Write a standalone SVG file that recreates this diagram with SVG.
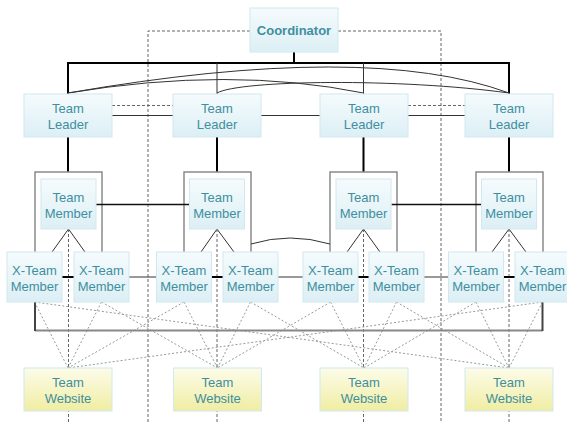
<svg xmlns="http://www.w3.org/2000/svg" width="567" height="423" viewBox="0 0 567 423">
<defs>
<linearGradient id="gb" x1="0" y1="0" x2="0" y2="1"><stop offset="0" stop-color="#f5fbfd"/><stop offset="1" stop-color="#dceff5"/></linearGradient>
<linearGradient id="gy" x1="0" y1="0" x2="0" y2="1"><stop offset="0" stop-color="#fcfcea"/><stop offset="1" stop-color="#f0eda2"/></linearGradient>
</defs>
<style>
.n{fill:url(#gb);stroke:#d2e8f0;stroke-width:1}
.w{fill:url(#gy);stroke:#d2e8f0;stroke-width:1}
text{font-family:"Liberation Sans",Arial,sans-serif;font-size:13px;fill:#3f8f9f;text-anchor:middle}
.b{font-weight:bold}
.k2{fill:none;stroke:#000;stroke-width:2}
.k1{fill:none;stroke:#333;stroke-width:1}
.k15{fill:none;stroke:#111;stroke-width:1.5}
.g{fill:none;stroke:#8a8a8a;stroke-width:1.5}
.ds{fill:none;stroke:#666;stroke-width:1;stroke-dasharray:3 2}
.dt{fill:none;stroke:#999;stroke-width:1;stroke-dasharray:2 2}
</style>
<g id="connectors">
<path class="ds" d="M250,31H148V423M338,31H441V423"/>
<path class="ds" d="M68.5,229V423M217,229V423M363.5,229V423M509,229V423"/>
<path class="dt" d="M34.5,302L68,368M34.5,302L509,368M101.5,302L68,368M101.5,302L217.5,368M184,302L68,368M184,302L217.5,368M250.5,302L217.5,368M250.5,302L364,368M330.5,302L217.5,368M330.5,302L364,368M396.5,302L364,368M396.5,302L509,368M476,302L364,368M476,302L509,368M542.5,302L509,368M542.5,302L68,368"/>
<path class="k2" d="M294,52V63M68,94V63H509V94"/>
<path class="k1" d="M217,63V94M363.5,63V94"/>
<path class="k1" d="M68,93Q368,41 509,93M68,93Q230,66 363.5,93M217,93C240,80 400,78 509,93"/>
<path class="k1" d="M112,115.5H173M261,115.5H320M408,115.5H465"/>
<path class="ds" d="M112,105.5H173M408,105.5H465"/>
<path class="k2" d="M68,137V172M217,137V172M363.5,137V172M509,137V172"/>
<path class="g" d="M35,252V172H102V252M184,252V172H251V252M330,252V172H397V252M476,252V172H543V252"/>
<path class="k1" d="M68.5,229L52,252M68.5,229L85,252M217,229L201,252M217,229L234,252M363.5,229L347,252M363.5,229L380,252M509,229L492,252M509,229L526,252"/>
<path class="k15" d="M96,204.5H189.5M391.5,204.5H481.5"/>
<path class="k1" d="M251,244Q290,232 330,244"/>
<path class="k2" d="M62,277H74M211.5,277H223M358,277H369M503.5,277H515"/>
<path class="k1" d="M129,277H156.5M278,277H303M424,277H448.5"/>
<path fill="none" stroke="#888" stroke-width="2" d="M35,330.5H542.5"/>
<path fill="none" stroke="#444" stroke-width="2" d="M35,302V331M542.5,331V302"/>
</g>
<g id="coordinator"><rect class="n" x="250" y="8" width="88" height="44"/><text class="b" x="294" y="35">Coordinator</text></g>
<g id="leader1"><rect class="n" x="24" y="94" width="88" height="43"/><text x="68" y="113">Team</text><text x="68" y="129">Leader</text></g>
<g id="leader2"><rect class="n" x="173" y="94" width="88" height="43"/><text x="217" y="113">Team</text><text x="217" y="129">Leader</text></g>
<g id="leader3"><rect class="n" x="320" y="94" width="88" height="43"/><text x="364" y="113">Team</text><text x="364" y="129">Leader</text></g>
<g id="leader4"><rect class="n" x="465" y="94" width="88" height="43"/><text x="509" y="113">Team</text><text x="509" y="129">Leader</text></g>
<g id="member1"><rect class="n" x="41" y="179" width="55" height="50"/><text x="68.5" y="202">Team</text><text x="68.5" y="217.5">Member</text></g>
<g id="member2"><rect class="n" x="189.5" y="179" width="55" height="50"/><text x="217" y="202">Team</text><text x="217" y="217.5">Member</text></g>
<g id="member3"><rect class="n" x="336" y="179" width="55" height="50"/><text x="363.5" y="202">Team</text><text x="363.5" y="217.5">Member</text></g>
<g id="member4"><rect class="n" x="481.5" y="179" width="55" height="50"/><text x="509" y="202">Team</text><text x="509" y="217.5">Member</text></g>
<g id="xmember1"><rect class="n" x="7" y="252" width="55" height="50"/><text x="34.5" y="275">X-Team</text><text x="34.5" y="291">Member</text></g>
<g id="xmember2"><rect class="n" x="74" y="252" width="55" height="50"/><text x="101.5" y="275">X-Team</text><text x="101.5" y="291">Member</text></g>
<g id="xmember3"><rect class="n" x="156.5" y="252" width="55" height="50"/><text x="184" y="275">X-Team</text><text x="184" y="291">Member</text></g>
<g id="xmember4"><rect class="n" x="223" y="252" width="55" height="50"/><text x="250.5" y="275">X-Team</text><text x="250.5" y="291">Member</text></g>
<g id="xmember5"><rect class="n" x="303" y="252" width="55" height="50"/><text x="330.5" y="275">X-Team</text><text x="330.5" y="291">Member</text></g>
<g id="xmember6"><rect class="n" x="369" y="252" width="55" height="50"/><text x="396.5" y="275">X-Team</text><text x="396.5" y="291">Member</text></g>
<g id="xmember7"><rect class="n" x="448.5" y="252" width="55" height="50"/><text x="476" y="275">X-Team</text><text x="476" y="291">Member</text></g>
<g id="xmember8"><rect class="n" x="515" y="252" width="55" height="50"/><text x="542.5" y="275">X-Team</text><text x="542.5" y="291">Member</text></g>
<g id="website1"><rect class="w" x="24" y="368" width="88" height="43"/><text x="68" y="387">Team</text><text x="68" y="402.5">Website</text></g>
<g id="website2"><rect class="w" x="173.5" y="368" width="88" height="43"/><text x="217.5" y="387">Team</text><text x="217.5" y="402.5">Website</text></g>
<g id="website3"><rect class="w" x="320" y="368" width="88" height="43"/><text x="364" y="387">Team</text><text x="364" y="402.5">Website</text></g>
<g id="website4"><rect class="w" x="465" y="368" width="88" height="43"/><text x="509" y="387">Team</text><text x="509" y="402.5">Website</text></g>
</svg>
